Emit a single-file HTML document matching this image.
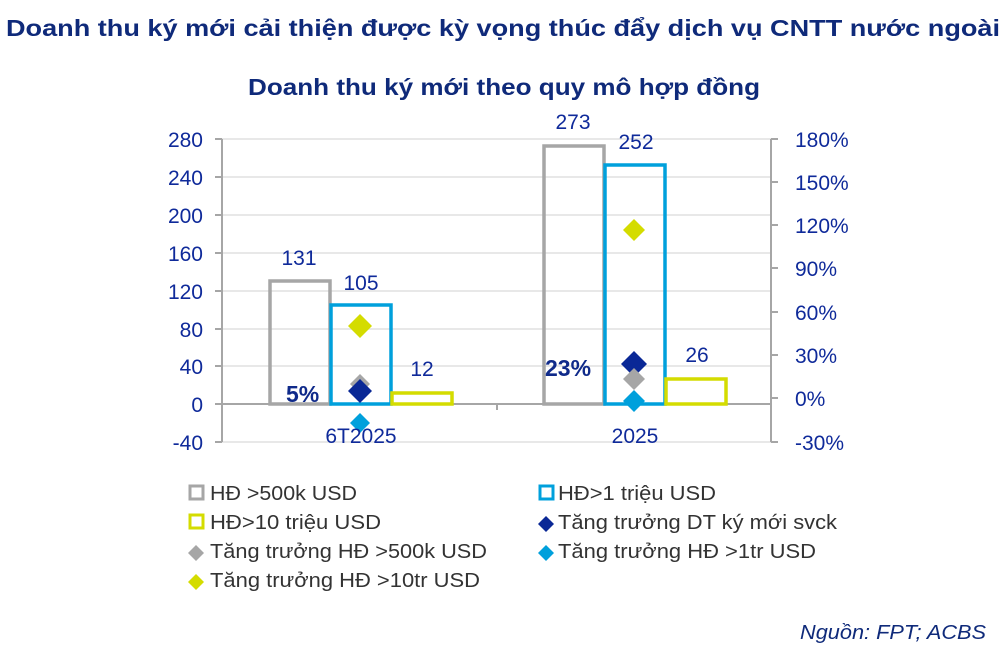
<!DOCTYPE html><html><head><style>body{margin:0;background:#fff;width:1007px;height:647px;overflow:hidden;font-family:"Liberation Sans",sans-serif}</style></head><body>
<svg width="1007" height="647" xmlns="http://www.w3.org/2000/svg" font-family="Liberation Sans, sans-serif">
<text x="6" y="36" font-size="23" font-weight="bold" fill="#0f2a7a" textLength="994" lengthAdjust="spacingAndGlyphs">Doanh thu ký mới cải thiện được kỳ vọng thúc đẩy dịch vụ CNTT nước ngoài</text>
<text x="248" y="95" font-size="23" font-weight="bold" fill="#0f2a7a" textLength="512" lengthAdjust="spacingAndGlyphs">Doanh thu ký mới theo quy mô hợp đồng</text>
<g stroke="#e0e0e0" stroke-width="1.5">
<line x1="222" x2="771" y1="139" y2="139"/><line x1="222" x2="771" y1="177" y2="177"/><line x1="222" x2="771" y1="215" y2="215"/><line x1="222" x2="771" y1="253" y2="253"/><line x1="222" x2="771" y1="291" y2="291"/><line x1="222" x2="771" y1="329" y2="329"/><line x1="222" x2="771" y1="366" y2="366"/><line x1="222" x2="771" y1="442" y2="442"/>
</g>
<g stroke="#a6a6a6" stroke-width="2">
<line x1="222" x2="222" y1="139" y2="442"/><line x1="771" x2="771" y1="139" y2="442"/>
<line x1="222" x2="771" y1="404" y2="404"/><line x1="497" x2="497" y1="404" y2="410"/>
<line x1="215" x2="222" y1="139" y2="139"/><line x1="215" x2="222" y1="177" y2="177"/><line x1="215" x2="222" y1="215" y2="215"/><line x1="215" x2="222" y1="253" y2="253"/><line x1="215" x2="222" y1="291" y2="291"/><line x1="215" x2="222" y1="329" y2="329"/><line x1="215" x2="222" y1="366" y2="366"/><line x1="215" x2="222" y1="404" y2="404"/><line x1="215" x2="222" y1="442" y2="442"/>
<line x1="771" x2="778" y1="139" y2="139"/><line x1="771" x2="778" y1="182" y2="182"/><line x1="771" x2="778" y1="225" y2="225"/><line x1="771" x2="778" y1="268" y2="268"/><line x1="771" x2="778" y1="312" y2="312"/><line x1="771" x2="778" y1="355" y2="355"/><line x1="771" x2="778" y1="398" y2="398"/><line x1="771" x2="778" y1="442" y2="442"/>
</g>
<g fill="#0f2a9a" font-size="21" text-anchor="end">
<text x="203" y="147">280</text><text x="203" y="185">240</text><text x="203" y="223">200</text><text x="203" y="261">160</text><text x="203" y="299">120</text><text x="203" y="337">80</text><text x="203" y="374">40</text><text x="203" y="412">0</text><text x="203" y="450">-40</text>
</g>
<g fill="#0f2a9a" font-size="21">
<text x="795" y="147">180%</text><text x="795" y="190">150%</text><text x="795" y="233">120%</text><text x="795" y="276">90%</text><text x="795" y="320">60%</text><text x="795" y="363">30%</text><text x="795" y="406">0%</text><text x="795" y="450">-30%</text>
</g>
<g fill="none" stroke-width="3.5">
<rect x="270" y="281" width="60" height="123" stroke="#a6a6a6"/>
<rect x="331" y="305" width="60" height="99" stroke="#00a0dc"/>
<rect x="392" y="393" width="60" height="11" stroke="#d4dc00"/>
<rect x="544" y="146" width="60" height="258" stroke="#a6a6a6"/>
<rect x="605" y="165" width="60" height="239" stroke="#00a0dc"/>
<rect x="666" y="379" width="60" height="25" stroke="#d4dc00"/>
</g>
<g>
<path d="M360 314l12 12-12 12-12-12z" fill="#d4dc00"/>
<path d="M360 374l10 10-10 10-10-10z" fill="#a6a6a6"/>
<path d="M360 379l12 12-12 12-12-12z" fill="#0a2896"/>
<path d="M360 413l10 10-10 10-10-10z" fill="#00a0dc"/>
<path d="M634 219l11 11-11 11-11-11z" fill="#d4dc00"/>
<path d="M634 351l13 13-13 13-13-13z" fill="#0a2896"/>
<path d="M634 368l11 11-11 11-11-11z" fill="#a6a6a6"/>
<path d="M634 390l11 11-11 11-11-11z" fill="#00a0dc"/>
</g>
<g fill="#0f2a9a" font-size="21" text-anchor="middle">
<text x="299" y="265">131</text><text x="361" y="290">105</text><text x="422" y="376">12</text>
<text x="573" y="129">273</text><text x="636" y="149">252</text><text x="697" y="362">26</text>
<text x="361" y="443">6T2025</text><text x="635" y="443">2025</text>
</g>
<g fill="#0f2a8a" font-size="23" font-weight="bold"><text x="286" y="402">5%</text><text x="545" y="376">23%</text></g>
<g font-size="20" fill="#333">
<rect x="190" y="486" width="13" height="13" fill="none" stroke="#a6a6a6" stroke-width="3"/><text x="210" y="500" textLength="147" lengthAdjust="spacingAndGlyphs">HĐ &gt;500k USD</text>
<rect x="540" y="486" width="13" height="13" fill="none" stroke="#00a0dc" stroke-width="3"/><text x="558" y="500" textLength="158" lengthAdjust="spacingAndGlyphs">HĐ&gt;1 triệu USD</text>
<rect x="190" y="515" width="13" height="13" fill="none" stroke="#d4dc00" stroke-width="3"/><text x="210" y="529" textLength="171" lengthAdjust="spacingAndGlyphs">HĐ&gt;10 triệu USD</text>
<path d="M546 516l8 8-8 8-8-8z" fill="#0a2896"/><text x="558" y="529" textLength="279" lengthAdjust="spacingAndGlyphs">Tăng trưởng DT ký mới svck</text>
<path d="M196 545l8 8-8 8-8-8z" fill="#a6a6a6"/><text x="210" y="558" textLength="277" lengthAdjust="spacingAndGlyphs">Tăng trưởng HĐ &gt;500k USD</text>
<path d="M546 545l8 8-8 8-8-8z" fill="#00a0dc"/><text x="558" y="558" textLength="258" lengthAdjust="spacingAndGlyphs">Tăng trưởng HĐ &gt;1tr USD</text>
<path d="M196 574l8 8-8 8-8-8z" fill="#d4dc00"/><text x="210" y="587" textLength="270" lengthAdjust="spacingAndGlyphs">Tăng trưởng HĐ &gt;10tr USD</text>
</g>
<text x="800" y="639" font-size="20" font-style="italic" fill="#0f2a7a" textLength="186" lengthAdjust="spacingAndGlyphs">Nguồn: FPT; ACBS</text>
</svg></body></html>
